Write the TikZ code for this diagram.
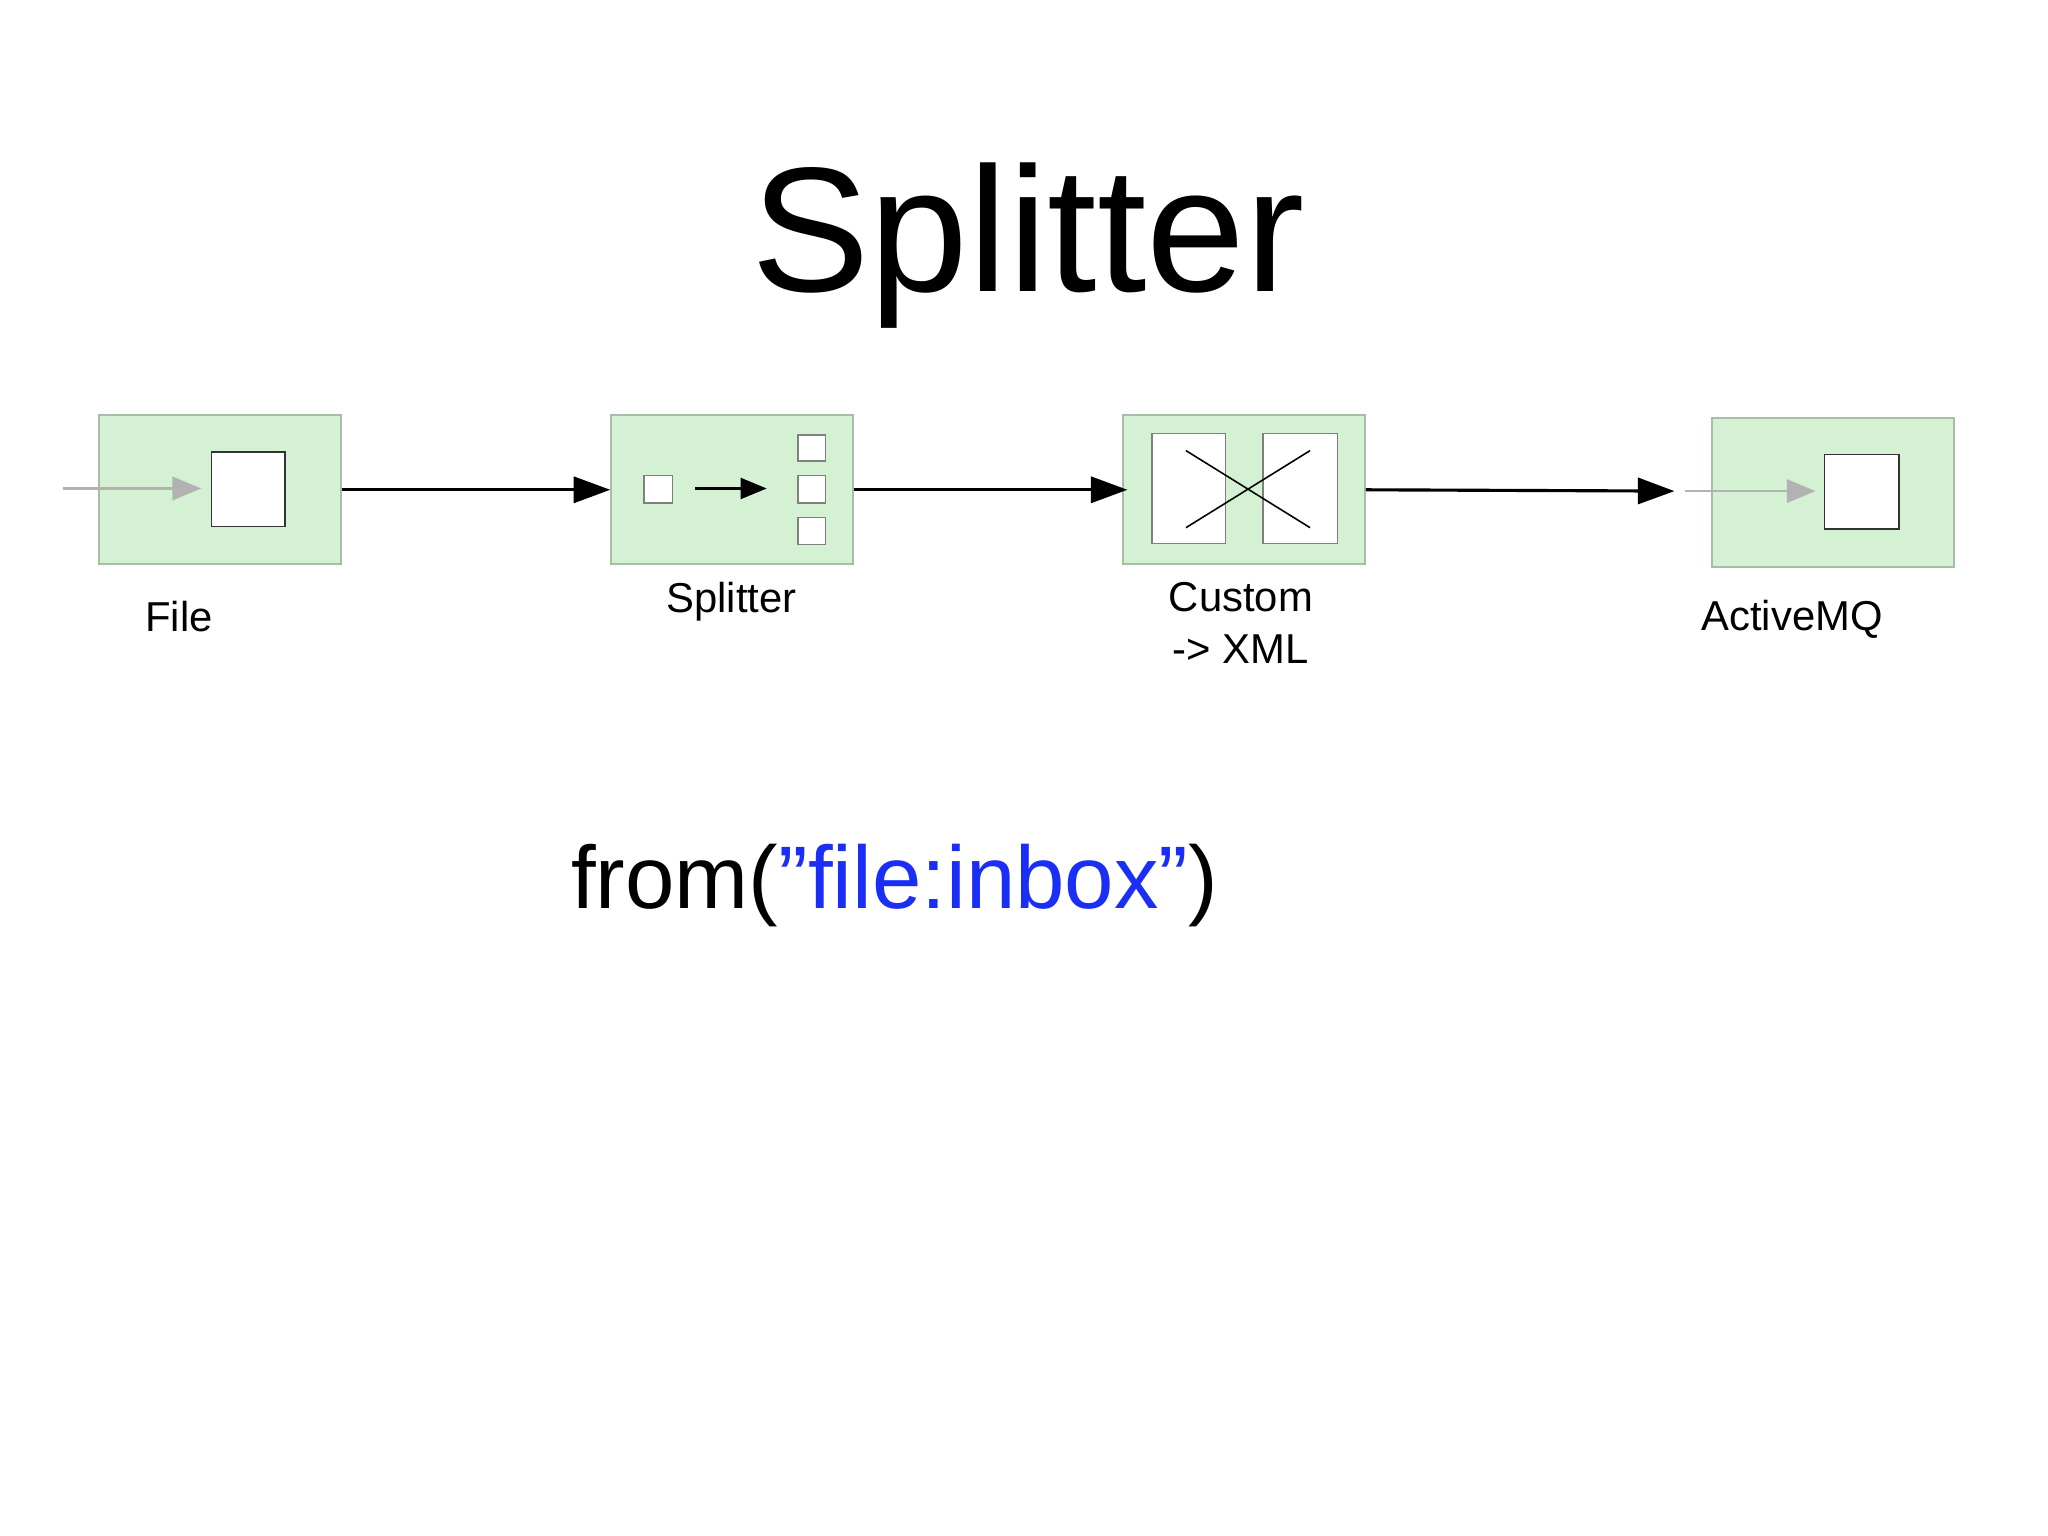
\documentclass[tikz,border=0pt]{standalone}
\usepackage{fontspec}
\setmainfont{Liberation Sans}
\usetikzlibrary{arrows.meta}
\definecolor{gfill}{HTML}{D4F1D4}
\definecolor{gdraw}{HTML}{A8BCA8}
\definecolor{codeblue}{HTML}{1A2EF5}
\begin{document}
\begin{tikzpicture}[x=0.5pt,y=-0.5pt,
  box/.style={draw=gdraw,fill=gfill,line width=0.8pt},
  sq/.style={draw=black!80,fill=white,line width=0.6pt},
  sqs/.style={draw=black!50,fill=white,line width=0.5pt},
  flow/.style={-{Triangle[length=14pt,width=10pt]},line width=1.2pt},
  gflow/.style={-{Triangle[length=11pt,width=9pt]},draw=black!30,line width=0.8pt},
  lbl/.style={font=\fontsize{16}{19}\selectfont,align=center}]
\useasboundingbox (0,0) rectangle (1568,1176);
% File
\node[box,minimum width=92.5pt,minimum height=57pt,inner sep=0] (file) at (168.5,375) {};
\draw[sq] (162,346) rectangle (218,403);
\coordinate (fin) at (48,374);
\coordinate (fend) at (154,374);
\draw[gflow] (fin) -- (fend);
\node[lbl] (filel) at (137,472) {File};
% Splitter
\node[box,minimum width=92.5pt,minimum height=57pt,inner sep=0] (split) at (560.5,375) {};
\draw[sqs] (493,364) rectangle (515,385);
\coordinate (sa) at (532,374); \coordinate (sb) at (587,374);
\draw[-{Triangle[length=10pt,width=8pt]},line width=1pt] (sa) -- (sb);
\draw[sqs] (611,333) rectangle (632,353);
\draw[sqs] (611,364) rectangle (632,385);
\draw[sqs] (611,396) rectangle (632,417);
\node[lbl] (splitl) at (560,461) {Splitter};
% Custom
\node[box,minimum width=92.5pt,minimum height=57pt,inner sep=0] (cust) at (952.5,375) {};
\draw[sqs] (882,332) rectangle (938,416);
\draw[sqs] (967,332) rectangle (1024,416);
\draw[line width=0.6pt] (908,404) -- (1003,345);
\draw[line width=0.6pt] (908,345) -- (1003,404);
\node[lbl] (custl) at (950,477) {Custom\\[1pt]-> XML};
% ActiveMQ
\node[box,minimum width=92.5pt,minimum height=57pt,inner sep=0] (amq) at (1403.5,377) {};
\draw[sq] (1397,348) rectangle (1454,405);
\coordinate (ain) at (1290,376);
\coordinate (aend) at (1390,376);
\draw[gflow] (ain) -- (aend);
\node[lbl] (amql) at (1372,474) {ActiveMQ};
% connectors
\draw[flow] (file.east) -- (split.west);
\draw[flow] (split.east) -- (cust.west |- split.east) -- ++(4,0);
\coordinate (aw) at (1282,376);
\draw[flow] (cust.east) -- (aw);
% title and code
\node[font=\fontsize{68}{80}\selectfont] (title) at (787,188) {Splitter};
\node[font=\fontsize{34}{40}\selectfont,anchor=west,inner sep=0] (code) at (437,678) {from(\textcolor{codeblue}{"file:inbox"})};
\end{tikzpicture}
\end{document}
